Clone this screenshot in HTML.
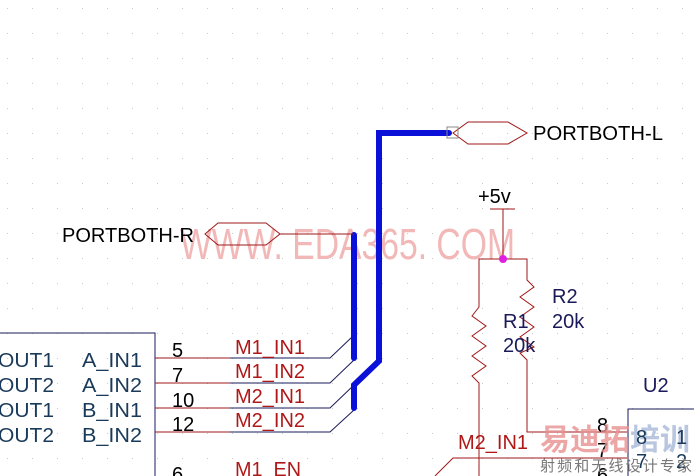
<!DOCTYPE html>
<html><head><meta charset="utf-8"><style>
html,body{margin:0;padding:0;background:#fff;width:694px;height:476px;overflow:hidden}
svg{display:block}
text{font-family:"Liberation Sans","Noto Sans CJK SC",sans-serif}
</style></head><body>
<svg width="694" height="476" viewBox="0 0 694 476" xmlns="http://www.w3.org/2000/svg">
<defs><pattern id="g" width="25" height="25" patternUnits="userSpaceOnUse" x="7" y="8"><rect x="0" y="0" width="1" height="1" fill="#c8c8c8"/></pattern></defs>
<rect width="694" height="476" fill="url(#g)"/>
<text x="180" y="259" font-size="44" fill="#f2b8b8" textLength="335" lengthAdjust="spacingAndGlyphs">WWW. EDA365. COM</text>
<path d="M0 333 H155 V476" fill="none" stroke="#1a1a5a" stroke-width="1"/>
<g font-size="20" fill="#1a3a5a">
<text x="-2" y="367" textLength="56" lengthAdjust="spacingAndGlyphs">OUT1</text><text x="82" y="367" textLength="60" lengthAdjust="spacingAndGlyphs">A_IN1</text>
<text x="-2" y="392" textLength="56" lengthAdjust="spacingAndGlyphs">OUT2</text><text x="82" y="392" textLength="60" lengthAdjust="spacingAndGlyphs">A_IN2</text>
<text x="-2" y="417" textLength="56" lengthAdjust="spacingAndGlyphs">OUT1</text><text x="82" y="417" textLength="60" lengthAdjust="spacingAndGlyphs">B_IN1</text>
<text x="-2" y="442" textLength="56" lengthAdjust="spacingAndGlyphs">OUT2</text><text x="82" y="442" textLength="60" lengthAdjust="spacingAndGlyphs">B_IN2</text>
</g>
<g stroke="#a01818" stroke-width="1"><line x1="155" y1="358" x2="230" y2="358"/><line x1="155" y1="383" x2="230" y2="383"/><line x1="155" y1="408" x2="230" y2="408"/><line x1="155" y1="432" x2="230" y2="432"/></g>
<g stroke="#1a1a5a" stroke-width="1" fill="none">
<path d="M230 358 H330 L352 337"/><path d="M230 383 H330 L354 360"/><path d="M230 408 H330 L354 385"/><path d="M230 432 H330 L354 410"/>
</g>
<g font-size="20" fill="#000"><text x="172" y="357">5</text><text x="172" y="382">7</text><text x="172" y="407">10</text><text x="172" y="431">12</text><text x="172" y="481">6</text></g>
<g font-size="20" fill="#b01818"><text x="235" y="354" textLength="70" lengthAdjust="spacingAndGlyphs">M1_IN1</text><text x="235" y="378" textLength="70" lengthAdjust="spacingAndGlyphs">M1_IN2</text><text x="235" y="403" textLength="70" lengthAdjust="spacingAndGlyphs">M2_IN1</text><text x="235" y="427" textLength="70" lengthAdjust="spacingAndGlyphs">M2_IN2</text><text x="235" y="476" textLength="66" lengthAdjust="spacingAndGlyphs">M1_EN</text></g>
<g stroke="#0a10d8" stroke-width="6" fill="none" stroke-linecap="round" stroke-linejoin="miter">
<path d="M354 235 V358"/>
<path d="M449 133 H379 V361 L354 385 V408"/>
</g>
<g stroke="#a01818" stroke-width="1" fill="none">
<polygon points="205,234 218,223 266,223 280,234 266,245 218,245"/>
<line x1="280" y1="234" x2="354" y2="234"/>
<polygon points="453,133 468,122 508,122 527,133 508,144 468,144"/>
</g>
<rect x="447" y="127" width="11" height="11" fill="none" stroke="#888" stroke-width="1"/>
<text x="62" y="242" font-size="20" fill="#000" textLength="132" lengthAdjust="spacingAndGlyphs">PORTBOTH-R</text>
<text x="533" y="140" font-size="20" fill="#000" textLength="130" lengthAdjust="spacingAndGlyphs">PORTBOTH-L</text>
<g stroke="#a01818" stroke-width="1" fill="none">
<line x1="490" y1="209" x2="515" y2="209"/><line x1="503" y1="209" x2="503" y2="259"/>
<path d="M479 476 V383 L472 376 L486 366 L472 356 L486 346 L472 336 L486 326 L472 316 L479 307 V259 H527 V280 L534 287 L520 297 L534 307 L520 317 L534 327 L520 337 L534 347 L520 353 L527 360 V432 H627"/>
<path d="M435 476 L453 458 H627"/>
</g>
<circle cx="503" cy="259" r="4" fill="#e020e0"/>
<text x="478" y="203" font-size="20" fill="#000">+5v</text>
<g font-size="20" fill="#1a1a5a"><text x="552" y="303">R2</text><text x="552" y="328">20k</text><text x="503" y="328">R1</text><text x="503" y="352">20k</text><text x="643" y="392">U2</text></g>
<path d="M694 409 H628 V476" fill="none" stroke="#1a1a5a"/>
<text x="458" y="449" font-size="20" fill="#b01818" textLength="70" lengthAdjust="spacingAndGlyphs">M2_IN1</text>
<g font-size="20" fill="#000"><text x="597" y="432">8</text><text x="597" y="457">7</text><text x="597" y="482">6</text></g>
<text x="540" y="450" font-size="30" font-weight="bold" fill="#e89090" opacity="0.8">易迪拓</text>
<text x="630" y="450" font-size="30" font-weight="bold" fill="#a8b8d8" opacity="0.8">培训</text>
<g font-size="20" fill="#1a3a5a"><text x="636" y="444">8</text><text x="676" y="444">1</text><text x="636" y="468">7</text><text x="676" y="468">2</text></g>
<text x="540" y="471" font-size="15" fill="#777" font-family="Noto Serif CJK SC,serif" textLength="152">射频和无线设计专家</text>
</svg>
</body></html>
